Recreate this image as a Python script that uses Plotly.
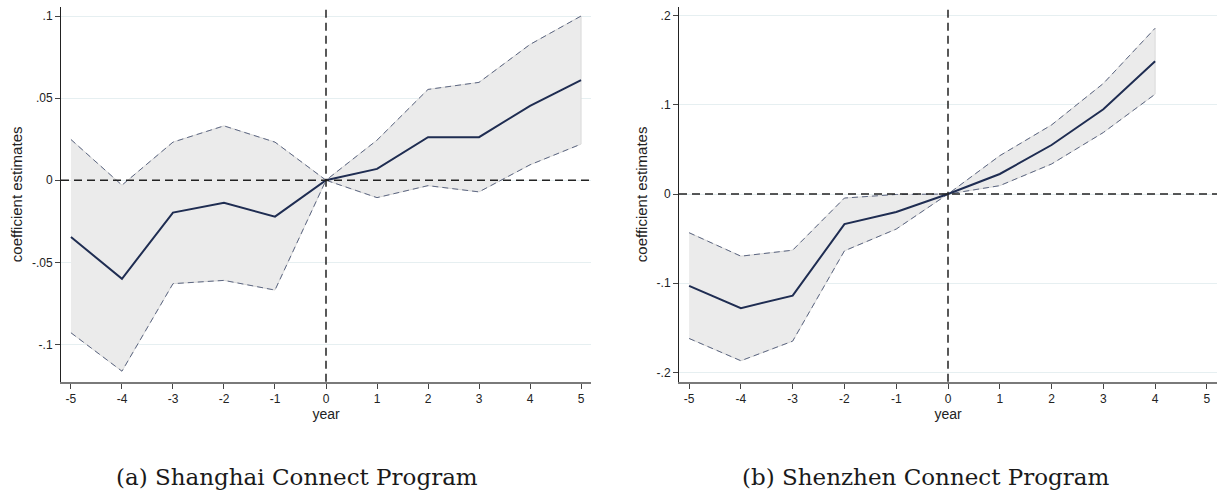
import plotly.graph_objects as go

# Event-time grid (years relative to program launch)
years_sh = [-5, -4, -3, -2, -1, 0, 1, 2, 3, 4, 5]
years_sz = [-5, -4, -3, -2, -1, 0, 1, 2, 3, 4]

# Shanghai Connect: point estimates and 95% CI bounds
coef_sh = [-0.0346, -0.0600, -0.0197, -0.0138, -0.0222, 0.0, 0.0069, 0.0262, 0.0262, 0.0453, 0.0610]
upper_sh = [0.0248, -0.0030, 0.0232, 0.0331, 0.0232, 0.0, 0.0244, 0.0553, 0.0596, 0.0827, 0.1000]
lower_sh = [-0.0929, -0.1163, -0.0630, -0.0610, -0.0669, 0.0, -0.0106, -0.0033, -0.0071, 0.0094, 0.0220]

# Shenzhen Connect: point estimates and 95% CI bounds
coef_sz = [-0.1030, -0.1280, -0.1140, -0.0337, -0.0202, 0.0, 0.0225, 0.0550, 0.0950, 0.1490]
upper_sz = [-0.0434, -0.0697, -0.0630, -0.0045, -0.0005, 0.0, 0.0430, 0.0775, 0.1240, 0.1860]
lower_sz = [-0.1620, -0.1870, -0.1650, -0.0637, -0.0393, 0.0, 0.0094, 0.0337, 0.0690, 0.1120]

# Axis ticks
xticks = [-5, -4, -3, -2, -1, 0, 1, 2, 3, 4, 5]
xtick_text = ["-5", "-4", "-3", "-2", "-1", "0", "1", "2", "3", "4", "5"]
yticks_sh = [-0.1, -0.05, 0, 0.05, 0.1]
ytick_text_sh = ["-.1", "-.05", "0", ".05", ".1"]
yticks_sz = [-0.2, -0.1, 0, 0.1, 0.2]
ytick_text_sz = ["-.2", "-.1", "0", ".1", ".2"]

captions = ["(a) Shanghai Connect Program", "(b) Shenzhen Connect Program"]

LINE = "#1f2d52"
CI_LINE = "#5d6782"
FILL = "#ebebeb"
GRID = "#e6eff1"
SANS = "Liberation Sans, Arial, sans-serif"

fig = go.Figure()


def add_panel(xs, coef, lo, hi, xa, ya):
    # shaded confidence band
    fig.add_trace(go.Scatter(
        x=xs + xs[::-1], y=hi + lo[::-1], xaxis=xa, yaxis=ya,
        fill="toself", fillcolor=FILL, mode="lines",
        line=dict(color="#d9d9d9", width=1), hoverinfo="skip", showlegend=False))
    for bound in (hi, lo):
        fig.add_trace(go.Scatter(
            x=xs, y=bound, xaxis=xa, yaxis=ya, mode="lines",
            line=dict(color=CI_LINE, width=1, dash="6px,4px"), showlegend=False))
    fig.add_trace(go.Scatter(
        x=xs, y=coef, xaxis=xa, yaxis=ya, mode="lines",
        line=dict(color=LINE, width=2), showlegend=False))


add_panel(years_sh, coef_sh, lower_sh, upper_sh, "x", "y")
add_panel(years_sz, coef_sz, lower_sz, upper_sz, "x2", "y2")

xdom = [[61 / 1224, 591 / 1224], [679 / 1224, 1217 / 1224]]
ydom = [1 - 381.7 / 496, 1 - 7 / 496]
yranges = [[-0.1227, 0.1055], [-0.2105, 0.2098]]
ytv = [yticks_sh, yticks_sz]
ytt = [ytick_text_sh, ytick_text_sz]

layout = dict(
    width=1224, height=496,
    margin=dict(l=0, r=0, t=0, b=0),
    paper_bgcolor="white", plot_bgcolor="white",
    showlegend=False,
    font=dict(family=SANS, color="#222222", size=12),
)
for i in range(2):
    xk = "xaxis" if i == 0 else "xaxis2"
    yk = "yaxis" if i == 0 else "yaxis2"
    layout[xk] = dict(
        domain=xdom[i], range=[-5.195, 5.195], anchor="y" if i == 0 else "y2",
        tickvals=xticks, ticktext=xtick_text, ticks="outside", ticklen=5,
        tickcolor="#444444", tickwidth=1, showgrid=False, zeroline=False,
        showline=True, linecolor="#7a7a7a", linewidth=2,
        tickfont=dict(family=SANS, size=12, color="#222222"),
        title=dict(text="year", font=dict(family=SANS, size=14, color="#222222"), standoff=1),
        fixedrange=True,
    )
    layout[yk] = dict(
        domain=ydom, range=yranges[i], anchor="x" if i == 0 else "x2",
        tickvals=ytv[i], ticktext=ytt[i], ticks="outside", ticklen=5,
        tickcolor="#444444", tickwidth=1, showgrid=True, gridcolor=GRID, gridwidth=1,
        zeroline=False, showline=True, linecolor="#222222", linewidth=1,
        tickfont=dict(family=SANS, size=12, color="#222222"),
        title=dict(text="coefficient estimates", font=dict(family=SANS, size=15, color="#222222"), standoff=5),
        fixedrange=True,
    )
fig.update_layout(**layout)

# reference lines at zero coefficient and at event year 0
for xr, yr in (("x", "y"), ("x2", "y2")):
    fig.add_shape(type="line", xref=f"{xr} domain", yref=yr, x0=0, x1=1, y0=0, y1=0,
                  line=dict(color="#222222", width=1.5, dash="8px,5px"), layer="above")
    fig.add_shape(type="line", xref=xr, yref=f"{yr} domain", x0=0, x1=0, y0=0, y1=1,
                  line=dict(color="#222222", width=1.5, dash="8px,5px"), layer="above")

for i, cx in enumerate([297 / 1224, 926 / 1224]):
    fig.add_annotation(text=captions[i], xref="paper", yref="paper", x=cx, y=1 - 477 / 496,
                       xanchor="center", yanchor="middle", showarrow=False,
                       font=dict(family="DejaVu Serif, serif", size=23, color="#1a1a1a"))

fig.write_html("out.html")
